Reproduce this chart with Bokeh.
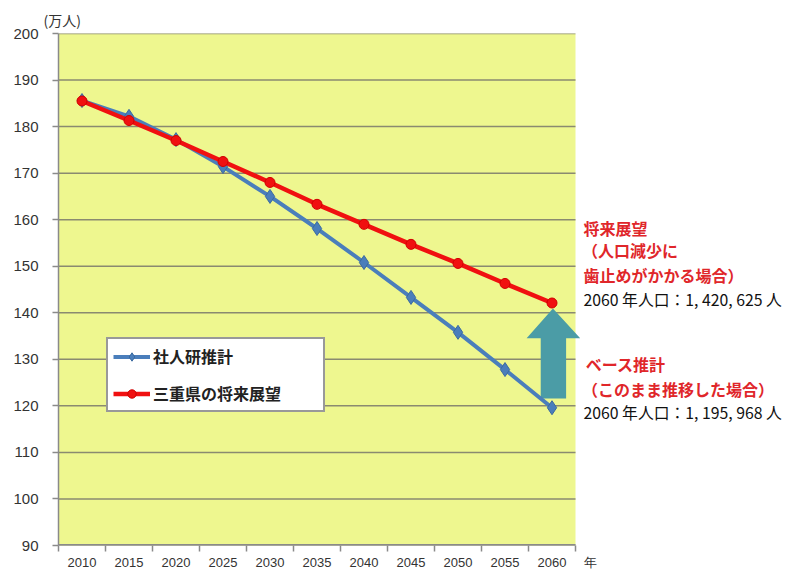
from bokeh.plotting import figure
from bokeh.models import (FixedTicker, Legend, LegendItem, Label, Range1d)
from bokeh.embed import file_html
from bokeh.resources import INLINE

years = [2010, 2015, 2020, 2025, 2030, 2035, 2040, 2045, 2050, 2055, 2060]
ipss = [185.6, 182.2, 177.2, 171.4, 165.0, 158.1, 150.8, 143.3, 135.8, 127.8, 119.6]
mie = [185.5, 181.3, 177.0, 172.5, 168.0, 163.3, 159.0, 154.7, 150.6, 146.3, 142.1]
y_ticks = [90, 100, 110, 120, 130, 140, 150, 160, 170, 180, 190, 200]
series_names = ["社人研推計", "三重県の将来展望"]
unit_label = "(万人)"
year_unit = "年"

JP = "Noto Sans CJK JP"
NUM = "Liberation Sans"

x_lo, x_hi = years[0] - 2.5, years[-1] + 2.5
y_lo, y_hi = y_ticks[0], y_ticks[-1]

# frame spans the right-hand note area too; the chart area is drawn as a box
p = figure(width=785, height=572, output_backend="svg", toolbar_location=None,
           x_range=Range1d(x_lo, x_lo + 727 / 9.4), y_range=Range1d(y_lo, y_hi),
           min_border_left=58, min_border_right=0, min_border_top=33,
           min_border_bottom=27)
p.background_fill_color = "white"
p.border_fill_color = "white"
p.outline_line_color = None

p.title.text = unit_label
p.title.text_font = JP
p.title.text_font_size = "14px"
p.title.text_font_style = "normal"
p.title.text_color = "#333333"
p.title.align = "left"
p.title.offset = -15
p.title.standoff = 7

# x axis
tick_pos = years + [x_hi + 1.6]
p.xaxis.ticker = FixedTicker(ticks=tick_pos,
                             minor_ticks=[y - 2.5 for y in years] + [x_hi])
p.xaxis.major_label_overrides = {x_hi + 1.6: year_unit}
p.xaxis.major_tick_line_color = None
p.xaxis.major_tick_out = 6
p.xaxis.major_tick_in = 0
p.xaxis.minor_tick_line_color = "#8a8a8a"
p.xaxis.minor_tick_out = 6
p.xaxis.minor_tick_in = 0
p.xaxis.minor_tick_line_width = 1.5
p.xaxis.axis_line_color = None
p.xaxis.major_label_text_font = NUM
p.xaxis.major_label_text_font_size = "13px"
p.xaxis.major_label_text_color = "#333333"
p.xaxis.major_label_standoff = 3

# y axis
p.yaxis.ticker = FixedTicker(ticks=y_ticks)
p.yaxis.minor_tick_line_color = None
p.yaxis.major_tick_line_color = "#8a8a8a"
p.yaxis.major_tick_out = 6
p.yaxis.major_tick_in = 0
p.yaxis.major_tick_line_width = 1.5
p.yaxis.axis_line_color = "#8a8a8a"
p.yaxis.axis_line_width = 1.5
p.yaxis.major_label_text_font = NUM
p.yaxis.major_label_text_font_size = "15px"
p.yaxis.major_label_text_color = "#333333"
p.yaxis.major_label_standoff = 14

p.xgrid.grid_line_color = None
p.ygrid.grid_line_color = None

# chart area
p.quad(left=x_lo, right=x_hi, bottom=y_lo, top=y_hi,
       fill_color="#EEF78F", line_color=None)
p.segment(x0=[x_lo] * len(y_ticks), x1=[x_hi] * len(y_ticks),
          y0=y_ticks, y1=y_ticks, line_color="#8a8a70", line_width=1.5)
p.segment(x0=[x_lo], x1=[x_hi], y0=[y_lo], y1=[y_lo],
          line_color="#8a8a8a", line_width=3)

# arrow (derived from the 2060 values)
tip = mie[-1] - 1.2
head_base = tip - 6.4
bottom = ipss[-1] + 2.0
xc = years[-1] + 0.1
ax = [xc, xc + 2.9, xc + 1.4, xc + 1.4, xc - 1.3, xc - 1.3, xc - 2.8]
ay = [tip, head_base, head_base, bottom, bottom, head_base, head_base]
p.patch(ax, ay, fill_color="#4B9CA6", line_color=None)

# series
bl = p.line(years, ipss, line_color="#4A7EBB", line_width=4)
bs = p.scatter(years, ipss, marker="diamond", size=14, fill_color="#4A7EBB",
               line_color="#3a6aa0")
rl = p.line(years, mie, line_color="#F01010", line_width=4.5)
rs = p.scatter(years, mie, marker="circle", size=10, fill_color="#F01010",
               line_color="#d00000")

legend = Legend(items=[LegendItem(label=series_names[0], renderers=[bl, bs]),
                       LegendItem(label=series_names[1], renderers=[rl, rs])],
                location=(48, 133))
legend.label_text_font = JP
legend.label_text_font_size = "16px"
legend.label_text_font_style = "bold"
legend.label_text_color = "#222222"
legend.border_line_color = "#333333"
legend.border_line_width = 2
legend.background_fill_color = "white"
legend.background_fill_alpha = 1
legend.glyph_width = 37
legend.glyph_height = 21
legend.spacing = 13
legend.padding = 5
legend.margin = 0
legend.label_standoff = 3
legend.label_width = 165
legend.label_height = 21
p.add_layout(legend, "center")

red = "#E0262A"
notes = [
    ("将来展望", 2063.35, 158.3, red, "bold"),
    ("（人口減少に", 2063.2, 153.4, red, "bold"),
    ("歯止めがかかる場合）", 2063.35, 148.2, red, "bold"),
    ("2060 年人口：1, 420, 625 人", 2063.35, 142.8, "#111111", "normal"),
    ("ベース推計", 2063.6, 129.1, red, "bold"),
    ("（このまま推移した場合）", 2063.2, 123.7, red, "bold"),
    ("2060 年人口：1, 195, 968 人", 2063.35, 118.6, "#111111", "normal"),
]
for t, x, y, c, st in notes:
    p.add_layout(Label(x=x, y=y, text=t, text_font=JP,
                       text_font_size="16px" if c == red else "15.8px",
                       text_color=c, text_font_style=st,
                       text_baseline="middle", text_align="left"))

open("out.html", "w").write(file_html(p, INLINE))
